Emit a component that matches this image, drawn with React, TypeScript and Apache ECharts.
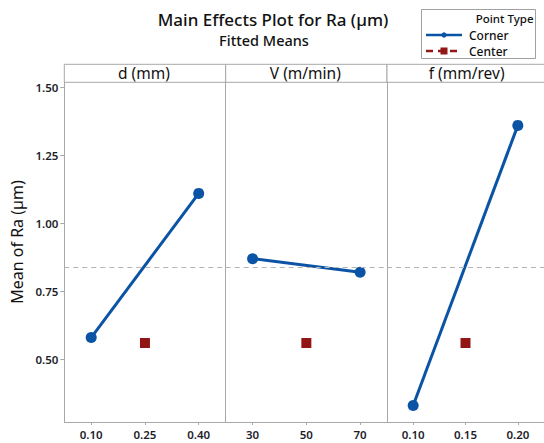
import React, { useEffect, useRef } from "react";
import * as echarts from "echarts";

const panelTitles = ["d (mm)", "V (m/min)", "f (mm/rev)"];
const dLevels = ["0.10", "0.25", "0.40"];
const vLevels = ["30", "50", "70"];
const fLevels = ["0.10", "0.15", "0.20"];
const dCorner = [0.58, null, 1.11];
const vCorner = [0.87, null, 0.82];
const fCorner = [0.33, null, 1.36];
const dCenter = [null, 0.56, null];
const vCenter = [null, 0.56, null];
const fCenter = [null, 0.56, null];
const overallMean = 0.845;
const yTickValues = [0.5, 0.75, 1.0, 1.25, 1.5];
const yMin = 0.2695;
const yMax = 1.5195;

const FONT = "'Noto Sans', 'Open Sans', sans-serif";
const BLUE = "#0B53A5";
const RED = "#931616";
const AXIS = "#a8a8a8";

export default function App() {
  const ref = useRef<HTMLDivElement>(null);
  useEffect(() => {
    if (!ref.current) return;
    const chart = echarts.init(ref.current, undefined, { renderer: "svg" });
    const levels = [dLevels, vLevels, fLevels];
    const corners = [dCorner, vCorner, fCorner];
    const centers = [dCenter, vCenter, fCenter];
    const lefts = [64.3, 225.7, 387];
    const pw = 161.3;
    const top = 82;
    const height = 340;

    const grids = lefts.map((l) => ({ left: l, top, width: pw, height }));
    const xAxes = levels.map((lv, i) => ({
      type: "category",
      gridIndex: i,
      data: lv,
      boundaryGap: true,
      axisLine: { show: true, lineStyle: { color: AXIS, width: 1 } },
      axisTick: { show: true, alignWithLabel: true, length: 3, lineStyle: { color: AXIS } },
      axisLabel: { color: "#1e1e2a", fontSize: 11.5, fontFamily: FONT, margin: 6, fontWeight: 600 },
      splitLine: { show: false },
    }));
    const yAxes = levels.map((_, i) => ({
      type: "value",
      gridIndex: i,
      min: yMin,
      max: yMax,
      axisLine: { show: true, lineStyle: { color: AXIS, width: 1 } },
      axisTick: {
        show: i === 0,
        length: 4,
        lineStyle: { color: AXIS },
        customValues: yTickValues,
      },
      axisLabel: {
        show: i === 0,
        customValues: yTickValues,
        formatter: (v: number) => v.toFixed(2),
        color: "#1e1e2a",
        fontSize: 11.5,
        fontFamily: FONT,
        fontWeight: 600,
        margin: 6,
      },
      splitLine: { show: false },
    }));

    const series: any[] = [];
    levels.forEach((_, i) => {
      series.push({
        type: "line",
        name: "Corner",
        xAxisIndex: i,
        yAxisIndex: i,
        data: corners[i],
        connectNulls: true,
        symbol: "circle",
        symbolSize: 11,
        lineStyle: { color: BLUE, width: 3 },
        itemStyle: { color: BLUE },
        markLine: {
          silent: true,
          symbol: "none",
          label: { show: false },
          lineStyle: { color: "#b4b4b4", type: [5, 4], width: 1 },
          data: [{ yAxis: overallMean }],
        },
      });
      series.push({
        type: "line",
        name: "Center",
        xAxisIndex: i,
        yAxisIndex: i,
        data: centers[i],
        symbol: "rect",
        symbolSize: 10,
        lineStyle: { color: RED, width: 3, type: "dashed" },
        itemStyle: { color: RED },
      });
    });

    const graphic: any[] = [];
    lefts.forEach((l, i) => {
      graphic.push({
        type: "rect",
        shape: { x: l, y: 64.3, width: pw, height: 18 },
        style: { fill: "#fff", stroke: AXIS, lineWidth: 1 },
      });
      graphic.push({
        type: "text",
        x: l + pw / 2 - 1,
        y: 73,
        style: {
          text: panelTitles[i],
          font: `400 15.5px ${FONT}`,
          fill: "#111",
          textAlign: "center",
          textVerticalAlign: "middle",
          lineHeight: 16,
        },
      });
    });
    // title
    graphic.push({
      type: "text",
      x: 273,
      y: 19.5,
      style: {
        text: "Main Effects Plot for Ra (µm)",
        font: `500 17px ${FONT}`,
        fill: "#111",
        textAlign: "center",
        textVerticalAlign: "middle",
        lineHeight: 17,
      },
    });
    graphic.push({
      type: "text",
      x: 264,
      y: 39.5,
      style: {
        text: "Fitted Means",
        font: `500 14.5px ${FONT}`,
        fill: "#111",
        textAlign: "center",
        textVerticalAlign: "middle",
        lineHeight: 15,
      },
    });
    // y axis name
    graphic.push({
      type: "text",
      x: 17,
      y: 242,
      rotation: Math.PI / 2,
      style: {
        text: "Mean of Ra (µm)",
        font: `400 16px ${FONT}`,
        fill: "#111",
        textAlign: "center",
        textVerticalAlign: "middle",
      },
    });
    // legend
    graphic.push({
      type: "rect",
      shape: { x: 421.5, y: 9.5, width: 114, height: 49 },
      style: { fill: "#fff", stroke: "#a0a0a0", lineWidth: 1 },
    });
    graphic.push({
      type: "text",
      x: 533.5,
      y: 18.5,
      style: { text: "Point Type", font: `500 11.5px ${FONT}`, fill: "#111", textAlign: "right", textVerticalAlign: "middle", lineHeight: 12 },
    });
    graphic.push({
      type: "line",
      shape: { x1: 426, y1: 35, x2: 462, y2: 35 },
      style: { stroke: BLUE, lineWidth: 2.5 },
    });
    graphic.push({ type: "circle", shape: { cx: 444, cy: 35, r: 2.6 }, style: { fill: BLUE } });
    graphic.push({
      type: "text",
      x: 469,
      y: 35,
      style: { text: "Corner", font: `500 12px ${FONT}`, fill: "#111", textAlign: "left", textVerticalAlign: "middle", lineHeight: 13 },
    });
    graphic.push({
      type: "line",
      shape: { x1: 426, y1: 51, x2: 462, y2: 51 },
      style: { stroke: RED, lineWidth: 2.5, lineDash: [7, 5] },
    });
    graphic.push({ type: "rect", shape: { x: 440.5, y: 47.5, width: 7, height: 7 }, style: { fill: RED } });
    graphic.push({
      type: "text",
      x: 469,
      y: 51,
      style: { text: "Center", font: `500 12px ${FONT}`, fill: "#111", textAlign: "left", textVerticalAlign: "middle", lineHeight: 13 },
    });

    chart.setOption({
      animation: false,
      backgroundColor: "#fff",
      grid: grids,
      xAxis: xAxes,
      yAxis: yAxes,
      series,
      graphic,
    });
    return () => chart.dispose();
  }, []);
  return (
    <div
      ref={ref}
      style={{ position: "fixed", left: 0, top: 0, width: 544, height: 443 }}
    />
  );
}
